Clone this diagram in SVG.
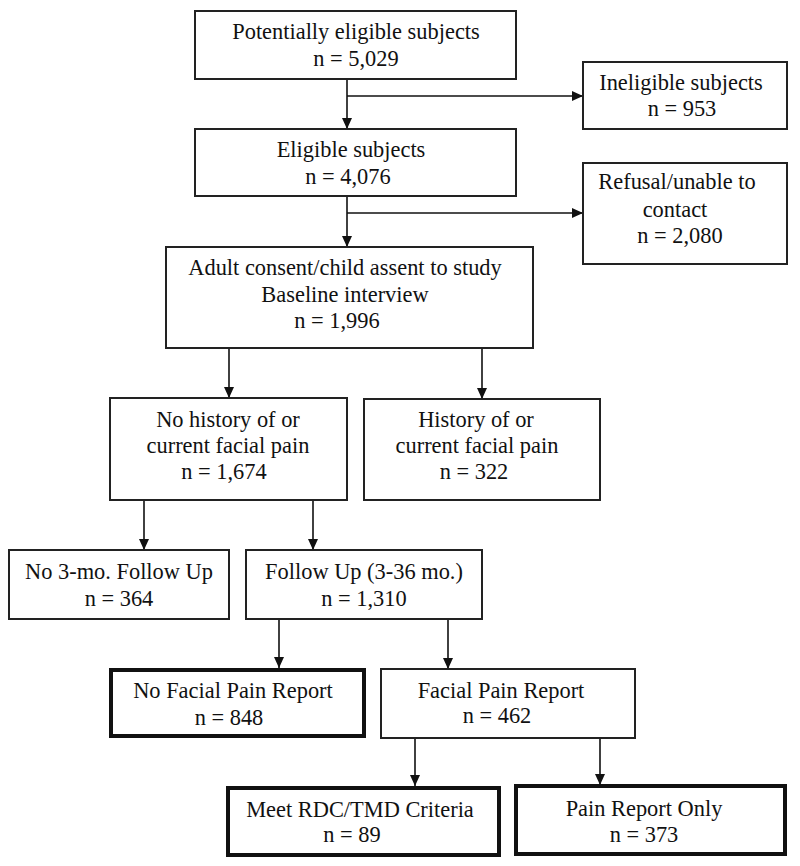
<svg xmlns="http://www.w3.org/2000/svg" width="800" height="866" viewBox="0 0 800 866">
<style>
  .box { fill: #ffffff; stroke: #222222; stroke-width: 2; }
  .thick { fill: #ffffff; stroke: #111111; stroke-width: 4; }
  .lbl { font-family: 'Liberation Serif', 'DejaVu Serif', serif; font-size: 22.4px; fill: #111111; text-anchor: middle; }
  .conn { fill: none; stroke: #111111; stroke-width: 1.6; }
</style>
<defs>
  <marker id="arr" markerUnits="userSpaceOnUse" markerWidth="12" markerHeight="10" refX="11" refY="5" orient="auto">
    <path d="M0,0 L11,5 L0,10 z" fill="#111111"/>
  </marker>
</defs>
<rect width="800" height="866" fill="#ffffff"/>

<g id="connectors">
  <line class="conn" x1="347" y1="79" x2="347" y2="129" marker-end="url(#arr)"/>
  <line class="conn" x1="347" y1="96" x2="583" y2="96" marker-end="url(#arr)"/>
  <line class="conn" x1="347" y1="196" x2="347" y2="247" marker-end="url(#arr)"/>
  <line class="conn" x1="347" y1="213" x2="583" y2="213" marker-end="url(#arr)"/>
  <line class="conn" x1="229" y1="348" x2="229" y2="398" marker-end="url(#arr)"/>
  <line class="conn" x1="482" y1="348" x2="482" y2="399" marker-end="url(#arr)"/>
  <line class="conn" x1="144" y1="500" x2="144" y2="550" marker-end="url(#arr)"/>
  <line class="conn" x1="313" y1="500" x2="313" y2="550" marker-end="url(#arr)"/>
  <line class="conn" x1="279" y1="619" x2="279" y2="668" marker-end="url(#arr)"/>
  <line class="conn" x1="448" y1="619" x2="448" y2="669" marker-end="url(#arr)"/>
  <line class="conn" x1="415" y1="738" x2="415" y2="786" marker-end="url(#arr)"/>
  <line class="conn" x1="600" y1="738" x2="600" y2="785" marker-end="url(#arr)"/>
</g>

<g id="potentially-eligible">
  <rect class="box" x="195" y="11" width="321" height="68"/>
  <text class="lbl" x="356" y="39">Potentially eligible subjects</text>
  <text class="lbl" x="356" y="66">n = 5,029</text>
</g>

<g id="ineligible">
  <rect class="box" x="583" y="62" width="204" height="67"/>
  <text class="lbl" x="681" y="90">Ineligible subjects</text>
  <text class="lbl" x="682" y="116">n = 953</text>
</g>

<g id="eligible">
  <rect class="box" x="195" y="129" width="321" height="67"/>
  <text class="lbl" x="351" y="157">Eligible subjects</text>
  <text class="lbl" x="348" y="184">n = 4,076</text>
</g>

<g id="refusal">
  <rect class="box" x="583" y="163" width="204" height="101"/>
  <text class="lbl" x="677" y="189">Refusal/unable to</text>
  <text class="lbl" x="675" y="217">contact</text>
  <text class="lbl" x="680" y="243">n = 2,080</text>
</g>

<g id="consent">
  <rect class="box" x="166" y="247" width="367" height="101"/>
  <text class="lbl" x="345" y="275">Adult consent/child assent to study</text>
  <text class="lbl" x="345" y="302">Baseline interview</text>
  <text class="lbl" x="337" y="328">n = 1,996</text>
</g>

<g id="no-history">
  <rect class="box" x="110" y="398" width="237" height="102"/>
  <text class="lbl" x="228" y="427">No history of or</text>
  <text class="lbl" x="228" y="453">current facial pain</text>
  <text class="lbl" x="224" y="479">n = 1,674</text>
</g>

<g id="history">
  <rect class="box" x="364" y="399" width="236" height="101"/>
  <text class="lbl" x="476" y="427">History of or</text>
  <text class="lbl" x="477" y="453">current facial pain</text>
  <text class="lbl" x="474" y="479">n = 322</text>
</g>

<g id="no-followup">
  <rect class="box" x="9" y="550" width="220" height="69"/>
  <text class="lbl" x="119" y="579">No 3-mo. Follow Up</text>
  <text class="lbl" x="119" y="606">n = 364</text>
</g>

<g id="followup">
  <rect class="box" x="246" y="550" width="236" height="69"/>
  <text class="lbl" x="364" y="579">Follow Up (3-36 mo.)</text>
  <text class="lbl" x="364" y="606">n = 1,310</text>
</g>

<g id="no-facial-pain">
  <rect class="thick" x="111" y="670" width="253" height="66"/>
  <text class="lbl" x="233" y="698">No Facial Pain Report</text>
  <text class="lbl" x="229" y="725">n = 848</text>
</g>

<g id="facial-pain">
  <rect class="box" x="381" y="669" width="254" height="69"/>
  <text class="lbl" x="501" y="698">Facial Pain Report</text>
  <text class="lbl" x="497" y="723">n = 462</text>
</g>

<g id="rdc-tmd">
  <rect class="thick" x="228" y="788" width="271" height="67"/>
  <text class="lbl" x="360" y="817">Meet RDC/TMD Criteria</text>
  <text class="lbl" x="352" y="842">n = 89</text>
</g>

<g id="pain-only">
  <rect class="thick" x="516" y="786" width="269" height="68"/>
  <text class="lbl" x="644" y="816">Pain Report Only</text>
  <text class="lbl" x="644" y="842">n = 373</text>
</g>
</svg>
